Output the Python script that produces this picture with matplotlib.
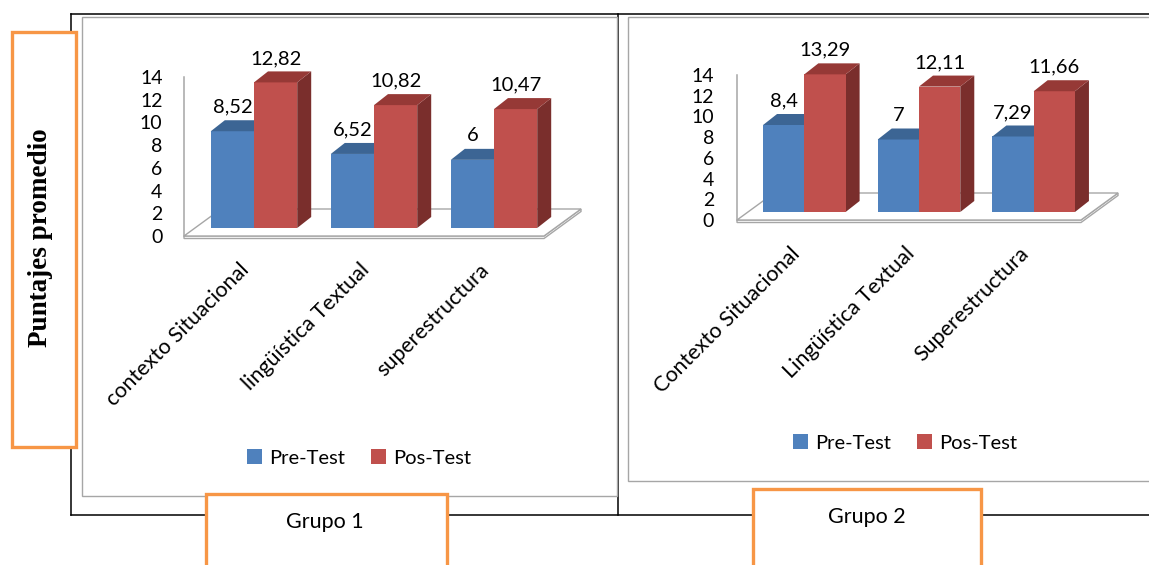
import matplotlib.pyplot as plt
from matplotlib.patches import Polygon, Rectangle
from matplotlib.transforms import ScaledTranslation

# data
categories_g1 = ['contexto Situacional', 'lingüística Textual', 'superestructura']
pre_g1 = [8.52, 6.52, 6]
pos_g1 = [12.82, 10.82, 10.47]

categories_g2 = ['Contexto Situacional', 'Lingüística Textual', 'Superestructura']
pre_g2 = [8.4, 7, 7.29]
pos_g2 = [13.29, 12.11, 11.66]

series = ['Pre-Test', 'Pos-Test']
groups = ['Grupo 1', 'Grupo 2']
y_ticks = [0, 2, 4, 6, 8, 10, 12, 14]

FONT = 'Lato'
front = ['#4F81BD', '#C0504D']
top = ['#3C6594', '#963936']
side = ['#2F5078', '#7A2E2C']
ORANGE = '#F79646'
GREY = '#A6A6A6'

W, H = 1149, 565
fig = plt.figure(figsize=(W / 100, H / 100), dpi=100)

# background layer in pixel coordinates for frames and boxes
bg = fig.add_axes([0, 0, 1, 1])
bg.set_xlim(0, W)
bg.set_ylim(H, 0)
bg.axis('off')

k = dict(color='black', lw=1.1, zorder=1)
bg.plot([71, W], [14, 14], **k)
bg.plot([71, 71], [14, 515], **k)
bg.plot([71, W], [515, 515], **k)
bg.plot([618, 618], [14, 515], **k)
bg.add_patch(Rectangle((82, 17), 535, 479, fill=False, ec=GREY, lw=1.0, zorder=2))
bg.add_patch(Rectangle((628, 17), 530, 464, fill=False, ec=GREY, lw=1.0, zorder=2))

# orange text boxes
bg.add_patch(Rectangle((12, 32), 64, 415, fc='white', ec=ORANGE, lw=2.4, zorder=5))
bg.text(41, 238, 'Puntajes promedio', rotation=90, ha='center', va='center',
        family='Liberation Serif', weight='bold', fontsize=19.5, zorder=6)
bg.add_patch(Rectangle((206, 494), 241, 100, fc='white', ec=ORANGE, lw=2.4, zorder=5))
bg.text(325, 522, groups[0], ha='center', va='center', family=FONT, fontsize=15.5, zorder=6)
bg.add_patch(Rectangle((753, 489), 228, 100, fc='white', ec=ORANGE, lw=2.4, zorder=5))
bg.text(867, 517, groups[1], ha='center', va='center', family=FONT, fontsize=15.5, zorder=6)


def fmt(v):
    return f'{v:g}'.replace('.', ',')


def chart(x0, x1, y14, y0, cats, pre, pos, legend_xy, ypad):
    ax = fig.add_axes([x0 / W, 1 - y0 / H, (x1 - x0) / W, (y0 - y14) / H])
    ax.set_xlim(-0.5, 2.5)
    ax.set_ylim(0, 14)
    ax.patch.set_visible(False)
    for s in ['top', 'right', 'bottom']:
        ax.spines[s].set_visible(False)
    ax.spines['left'].set_color(GREY)
    ax.spines['left'].set_linewidth(1.1)

    xs = (x1 - x0) / 3.0      # pixels per category
    ys = (y0 - y14) / 14.0    # pixels per unit
    sx, sy = 10 / xs, 8 / ys      # bar plane behind the front of the floor
    dx, dy = 14 / xs, 11 / ys     # bar depth
    fx, fy = 37 / xs, 27 / ys     # floor depth
    t = 2.5 / ys

    ax.add_patch(Polygon([(-0.5, 0), (2.5, 0), (2.5 + fx, fy), (-0.5 + fx, fy)],
                         closed=True, fc='white', ec=GREY, lw=1.0, zorder=1, clip_on=False))
    ax.add_patch(Polygon([(-0.5, 0), (2.5, 0), (2.5 + fx, fy), (2.5 + fx, fy - t),
                          (2.5, -t), (-0.5, -t)],
                         closed=True, fc='white', ec=GREY, lw=1.0, zorder=0.9, clip_on=False))

    w = 0.36
    xpos = range(len(cats))
    handles = []
    for j, vals in enumerate([pre, pos]):
        lefts = [i - w + j * w + sx for i in xpos]
        z = 3 + 3 * j
        for l, v in zip(lefts, vals):
            b, tp = sy, v + sy
            ax.add_patch(Polygon([(l + w, b), (l + w + dx, b + dy), (l + w + dx, tp + dy), (l + w, tp)],
                                 closed=True, fc=side[j], ec='none', zorder=z, clip_on=False))
            ax.add_patch(Polygon([(l, tp), (l + w, tp), (l + w + dx, tp + dy), (l + dx, tp + dy)],
                                 closed=True, fc=top[j], ec='none', zorder=z + 2, clip_on=False))
            ax.text(l + w / 2, tp + dy + 13 / ys, fmt(v), ha='center', va='center',
                    family=FONT, fontsize=14.5, zorder=10)
        bars = ax.bar(lefts, vals, width=w, bottom=sy, align='edge', color=front[j],
                      zorder=z + 1, clip_on=False, label=series[j])
        handles.append(bars)

    ax.set_yticks(y_ticks)
    ax.set_yticklabels([str(v) for v in y_ticks], family=FONT, fontsize=14)
    ax.tick_params(axis='y', length=0, pad=ypad)
    ax.set_xticks(list(xpos))
    ax.set_xticklabels(cats, rotation=45, ha='right', rotation_mode='anchor',
                       family=FONT, fontsize=15.5)
    ax.tick_params(axis='x', length=0, pad=17)
    shift = ScaledTranslation(-0.05, 0, fig.dpi_scale_trans)
    for lab in ax.get_xticklabels():
        lab.set_transform(lab.get_transform() + shift)

    fig.legend(handles=handles, labels=series, loc='center',
               bbox_to_anchor=(legend_xy[0] / W, 1 - legend_xy[1] / H),
               ncol=2, frameon=False, prop={'family': FONT, 'size': 14.5},
               handlelength=0.75, handleheight=0.75, handletextpad=0.35,
               columnspacing=1.3)
    return ax


chart(184, 544, 77, 236, categories_g1, pre_g1, pos_g1, (359, 458), 15.5)
chart(737, 1081, 75, 220, categories_g2, pre_g2, pos_g2, (905, 443), 16.5)

fig.savefig('out.png', dpi=100)
